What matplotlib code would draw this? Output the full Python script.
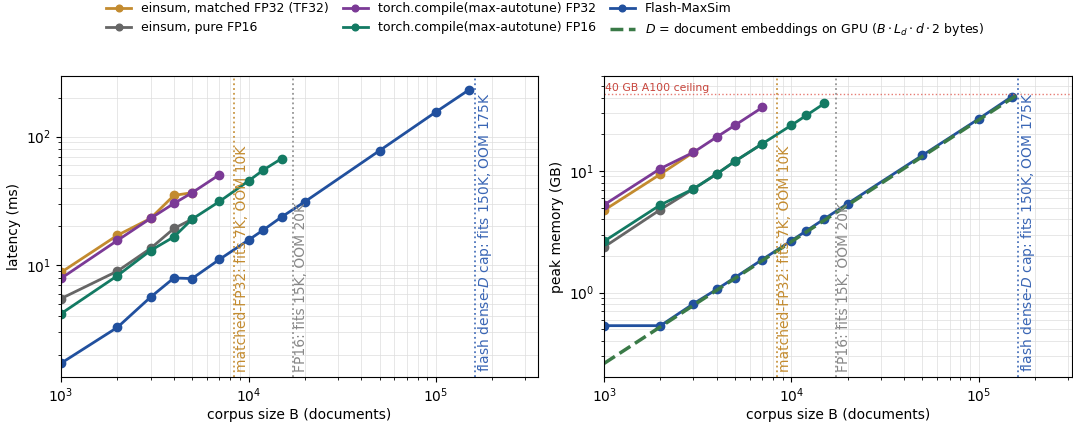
import matplotlib
matplotlib.use("Agg")
import matplotlib.pyplot as plt
import matplotlib.transforms as mtransforms

# corpus sizes (documents)
B_all = [1000, 2000, 3000, 4000, 5000, 7000, 10000, 12000, 15000, 20000, 50000, 100000, 150000]

# latency (ms)
lat_matched_B = [1000, 2000, 3000, 4000, 5000]
lat_matched = [8.8, 17.1, 23.1, 34.9, 36.6]
lat_fp16_B = [1000, 2000, 3000, 4000, 5000]
lat_fp16 = [5.5, 9.0, 13.5, 19.3, 22.8]
lat_tc32_B = [1000, 2000, 3000, 4000, 5000, 7000]
lat_tc32 = [7.9, 15.6, 23.1, 30.2, 36.6, 50.6]
lat_tc16_B = [1000, 2000, 3000, 4000, 5000, 7000, 10000, 12000, 15000]
lat_tc16 = [4.2, 8.3, 13.0, 16.6, 22.8, 31.3, 45.2, 55.0, 67.4]
lat_flash = [1.73, 3.29, 5.64, 7.96, 7.87, 11.1, 15.7, 18.8, 23.7, 31.2, 77.8, 155.6, 231]

# peak memory (GB)
mem_matched_B = [1000, 2000, 3000]
mem_matched = [4.75, 9.4, 14.2]
mem_fp16_B = [1000, 2000, 3000, 4000, 5000, 7000]
mem_fp16 = [2.37, 4.81, 7.1, 9.45, 12.0, 16.7]
mem_tc32_B = [1000, 2000, 3000, 4000, 5000, 7000]
mem_tc32 = [5.26, 10.45, 14.2, 19.0, 23.7, 33.2]
mem_tc16_B = [1000, 2000, 3000, 4000, 5000, 7000, 10000, 12000, 15000]
mem_tc16 = [2.64, 5.26, 7.11, 9.45, 12.0, 16.7, 23.7, 28.5, 35.8]
mem_flash = [0.535, 0.535, 0.81, 1.065, 1.33, 1.87, 2.67, 3.21, 4.03, 5.39, 13.4, 26.7, 40.6]

# D = document embeddings on GPU (end points)
D_B = [1000, 168000]
D_GB = [0.262, 44.0]

ceiling_gb = 42.95

# OOM boundaries (between fits / OOM sizes)
cap_x = [8367, 17320, 162019]
cap_text = ["matched-FP32: fits 7K, OOM 10K", "FP16: fits 15K, OOM 20K",
            "flash dense-$D$ cap: fits 150K, OOM 175K"]

c_orange = "#C38B2F"
c_gray = "#666666"
c_purple = "#7B3A96"
c_green = "#137A63"
c_blue = "#21509E"
c_dgreen = "#3A7A47"
cap_colors = [c_orange, "#888888", "#3A66B5"]

fig = plt.figure(figsize=(10.73, 4.23), dpi=100)
ax1 = fig.add_axes([0.0569, 0.109, 0.4445, 0.711])
ax2 = fig.add_axes([0.563, 0.109, 0.436, 0.711])

kw = dict(marker="o", lw=2, ms=6)

ax1.plot(lat_matched_B, lat_matched, color=c_orange, label="einsum, matched FP32 (TF32)", **kw)
ax1.plot(lat_fp16_B, lat_fp16, color=c_gray, label="einsum, pure FP16", **kw)
ax1.plot(lat_tc32_B, lat_tc32, color=c_purple, label="torch.compile(max-autotune) FP32", **kw)
ax1.plot(lat_tc16_B, lat_tc16, color=c_green, label="torch.compile(max-autotune) FP16", **kw)
ax1.plot(B_all, lat_flash, color=c_blue, label="Flash-MaxSim", **kw)

ax2.plot(mem_matched_B, mem_matched, color=c_orange, **kw)
ax2.plot(mem_fp16_B, mem_fp16, color=c_gray, **kw)
ax2.plot(mem_tc32_B, mem_tc32, color=c_purple, **kw)
ax2.plot(mem_tc16_B, mem_tc16, color=c_green, **kw)
ax2.plot(B_all, mem_flash, color=c_blue, **kw)
ax2.plot(D_B, D_GB, color=c_dgreen, ls="--", lw=2.5,
         label=r"$D$ = document embeddings on GPU ($B \cdot L_d \cdot d \cdot 2$ bytes)")

ax2.axhline(ceiling_gb, color="#E05A50", ls=":", lw=1, alpha=0.8)
ax2.text(1010, ceiling_gb * 1.02, "40 GB A100 ceiling", color="#C8453C",
         fontsize=7.8, va="bottom", ha="left")

for ax in (ax1, ax2):
    ax.set_xscale("log")
    ax.set_yscale("log")
    ax.grid(True, which="both", color="#dddddd", lw=0.7, alpha=0.7)
    ax.set_xlabel("corpus size B (documents)", fontsize=10, labelpad=2)
    trans = mtransforms.blended_transform_factory(ax.transData, ax.transAxes)
    for x, t, c in zip(cap_x, cap_text, cap_colors):
        ax.axvline(x, color=c, ls=":", lw=1.3, alpha=0.9)
        ax.text(x * 1.01, 0.015, t, rotation=90, color=c, fontsize=10,
                ha="left", va="bottom", transform=trans)

ax1.set_xlim(1000, 3.5e5)
ax2.set_xlim(1000, 3.15e5)
ax2.set_ylim(0.203, 60)
ax1.set_ylabel("latency (ms)", fontsize=10)
ax2.set_ylabel("peak memory (GB)", fontsize=10)

h1, l1 = ax1.get_legend_handles_labels()
h2, l2 = ax2.get_legend_handles_labels()
handles = [h1[0], h1[1], h1[2], h1[3], h1[4], h2[0]]
labels = [l1[0], l1[1], l1[2], l1[3], l1[4], l2[0]]
fig.legend(handles, labels, loc="upper center", bbox_to_anchor=(0.508, 1.022),
           ncol=3, frameon=False, fontsize=9, markerscale=0.8,
           columnspacing=1.1, handletextpad=0.8, labelspacing=0.5)

fig.savefig("out.png", dpi=100)
